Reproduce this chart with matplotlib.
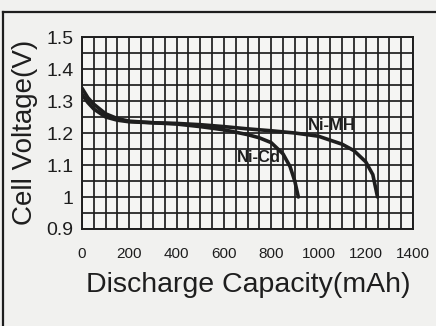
import matplotlib
matplotlib.use("Agg")
import matplotlib.pyplot as plt
from matplotlib.lines import Line2D
import numpy as np

plt.rcParams['font.family'] = ['Liberation Sans', 'DejaVu Sans']

# Data
nicd_capacity = [0, 25, 50, 100, 150, 200, 300, 400, 500, 600, 700, 750, 800, 850, 880, 900, 915]
nicd_voltage = [1.34, 1.31, 1.29, 1.26, 1.245, 1.237, 1.232, 1.228, 1.22, 1.21, 1.195, 1.185, 1.17, 1.135, 1.095, 1.05, 1.0]

nimh_capacity = [0, 25, 50, 100, 150, 200, 300, 400, 500, 600, 700, 800, 900, 1000, 1100, 1150, 1200, 1230, 1250]
nimh_voltage = [1.32, 1.295, 1.275, 1.25, 1.24, 1.235, 1.232, 1.23, 1.226, 1.22, 1.213, 1.207, 1.2, 1.19, 1.165, 1.145, 1.11, 1.07, 1.0]

x_ticks = [0, 200, 400, 600, 800, 1000, 1200, 1400]
y_ticks = [0.9, 1.0, 1.1, 1.2, 1.3, 1.4, 1.5]
y_tick_labels = ["0.9", "1", "1.1", "1.2", "1.3", "1.4", "1.5"]

bg = "#f1f1ef"
ink = "#1e1e1e"

fig = plt.figure(figsize=(4.36, 3.26), dpi=100, facecolor=bg)
ax = fig.add_axes([82/436, 1 - 229/326, 331/436, 192/326])
ax.set_facecolor("#f5f5f3")

ax.set_xlim(0, 1400)
ax.set_ylim(0.9, 1.5)
ax.set_xticks(x_ticks)
ax.set_yticks(y_ticks)
ax.set_yticklabels(y_tick_labels)
ax.set_xticks(np.arange(0, 1401, 50), minor=True)
ax.set_yticks(np.arange(0.9, 1.5001, 0.05), minor=True)
ax.grid(which='both', color=ink, linewidth=1.25)
ax.set_axisbelow(True)
ax.tick_params(which='both', length=0)
ax.tick_params(axis='x', pad=13, labelsize=11, labelcolor=ink)
ax.tick_params(axis='y', pad=6, labelsize=14, labelcolor=ink)
for s in ax.spines.values():
    s.set_color(ink)
    s.set_linewidth(1.4)

ax.plot(nicd_capacity, nicd_voltage, color=ink, linewidth=2.6, solid_capstyle='round')
ax.plot(nimh_capacity, nimh_voltage, color=ink, linewidth=2.6, solid_capstyle='round')

ax.text(1058, 1.222, "Ni-MH", fontsize=12, fontweight='bold', color=ink,
        ha='center', va='center')
ax.text(749, 1.125, "Ni-Cd", fontsize=12, fontweight='bold', color=ink,
        ha='center', va='center')

fig.text(248.5/436, 1 - 285/326, "Discharge Capacity(mAh)", fontsize=20.5,
         color=ink, ha='center', va='center')
fig.text(25/436, 1 - 132/326, "Cell Voltage(V)", fontsize=20, rotation=90,
         color=ink, ha='center', va='center')

# outer frame (top and left edges visible)
fig.add_artist(Line2D([2.5/436, 1.0], [1 - 11.5/326, 1 - 11.5/326], color=ink, linewidth=1.6,
                      transform=fig.transFigure))
fig.add_artist(Line2D([2.5/436, 2.5/436], [0.0, 1 - 11.5/326], color=ink, linewidth=1.6,
                      transform=fig.transFigure))

fig.savefig("out.png", dpi=100, facecolor=bg)
